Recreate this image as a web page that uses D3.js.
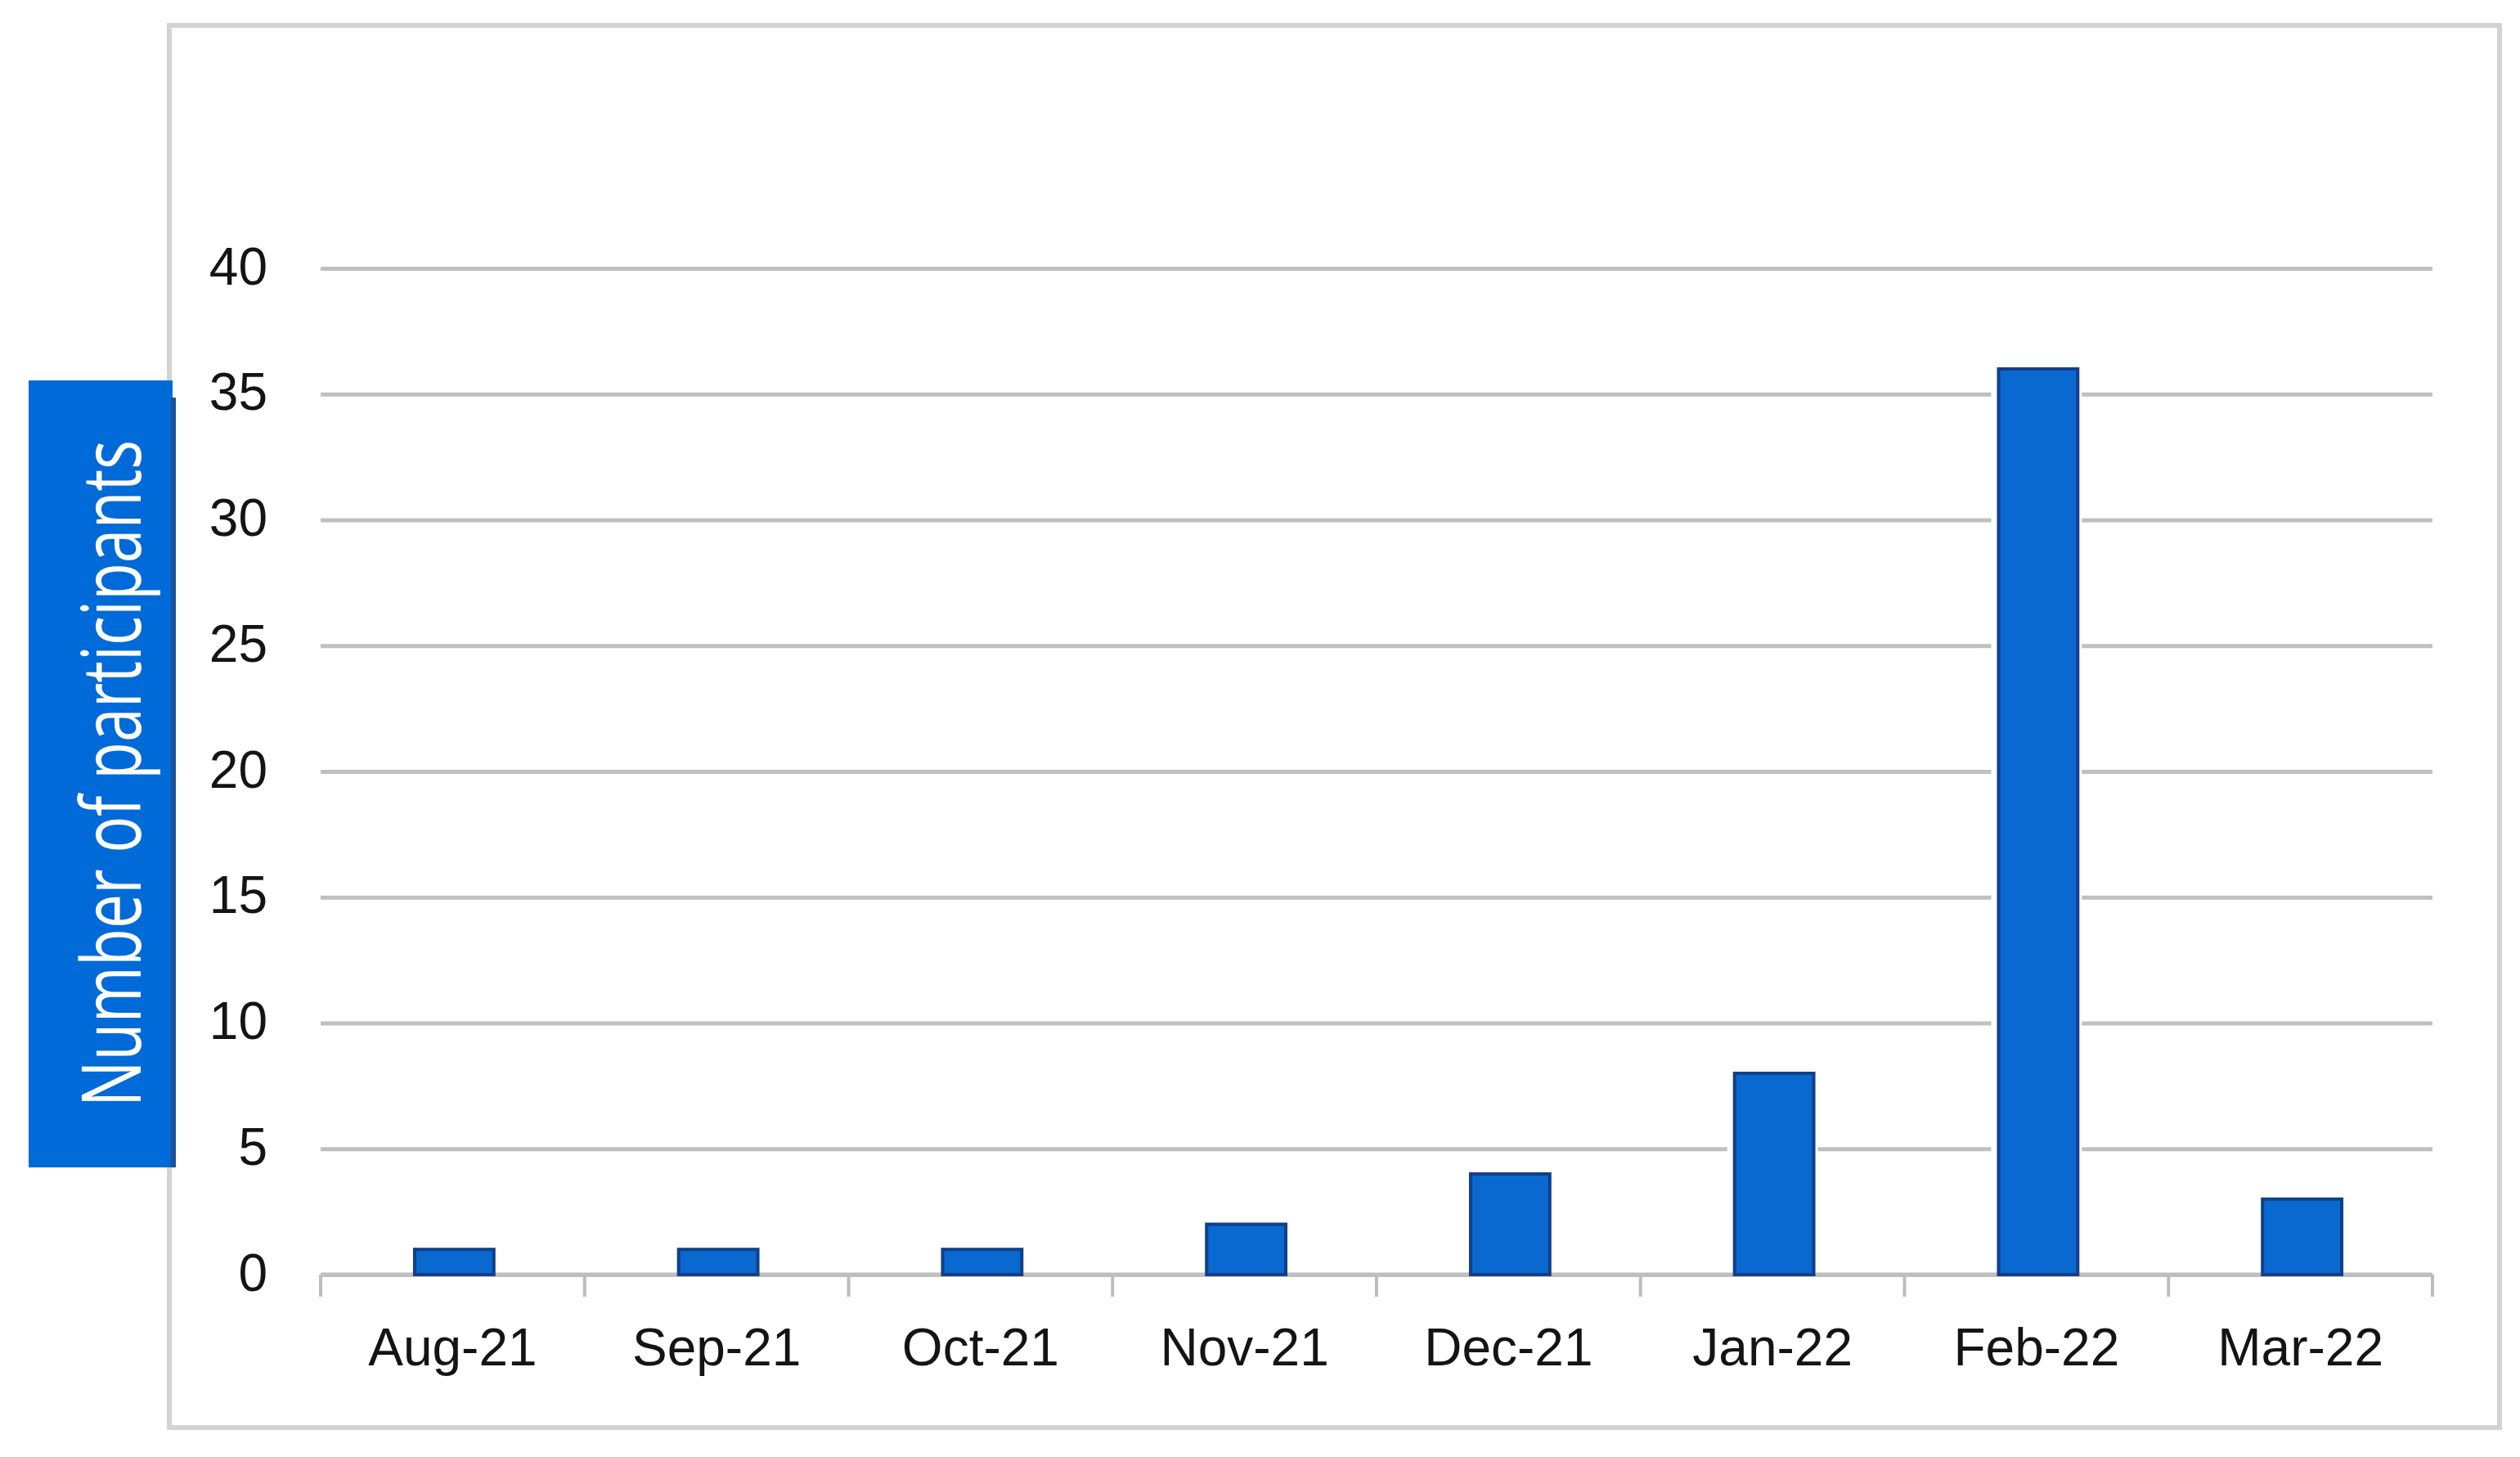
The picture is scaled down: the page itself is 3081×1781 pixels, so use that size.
<!DOCTYPE html>
<html lang="en">
<head>
<meta charset="UTF-8">
<title>Number of participants by month</title>
<script src="https://cdn.jsdelivr.net/npm/d3@7"></script>
<style>
body { margin: 0; background: #fff; }
.tick text { font-family: "Liberation Sans", Arial, sans-serif; font-size: 64px; fill: #141414; }
</style>
</head>
<body>
<script>
var months = ['Aug-21', 'Sep-21', 'Oct-21', 'Nov-21', 'Dec-21', 'Jan-22', 'Feb-22', 'Mar-22'];
var participants = [1, 1, 1, 2, 4, 8, 36, 3];
var yTicks = [0, 5, 10, 15, 20, 25, 30, 35, 40];
var yTitle = 'Number of participants';

var width = 3081, height = 1781;
var plot = {left: 392, right: 2974, top: 328, bottom: 1558};

var svg = d3.select('body').append('svg')
    .attr('width', width).attr('height', height);

// outer chart frame
svg.append('rect')
    .attr('x', 207).attr('y', 31)
    .attr('width', 3056 - 207).attr('height', 1745 - 31)
    .attr('fill', '#fff').attr('stroke', '#d3d3d3').attr('stroke-width', 6);

var x = d3.scaleBand().domain(months).range([plot.left, plot.right])
    .paddingInner(0.7).paddingOuter(0.35);
var y = d3.scaleLinear().domain([0, 40]).range([plot.bottom, plot.top]);

// gridlines + y labels
var yAxis = d3.axisLeft(y).tickValues(yTicks)
    .tickSize(-(plot.right - plot.left)).tickPadding(65);
var gy = svg.append('g').attr('transform', 'translate(' + plot.left + ',0)').call(yAxis);
gy.select('.domain').remove();
gy.selectAll('.tick line').attr('stroke', '#bfbfbf').attr('stroke-width', 5);
gy.selectAll('.tick text').attr('dy', 19);

// x axis labels
var xAxis = d3.axisBottom(x).tickSize(0);
var gx = svg.append('g').attr('transform', 'translate(0,' + plot.bottom + ')').call(xAxis);
gx.select('.domain').remove();
gx.selectAll('.tick text').attr('y', 111).attr('dy', 0);

// x axis line and boundary ticks
var half = (x.step() - x.bandwidth()) / 2;
var bounds = months.map(function (m) { return x(m) - half; });
bounds.push(x(months[months.length - 1]) + x.bandwidth() + half);
svg.append('line')
    .attr('x1', plot.left).attr('x2', plot.right)
    .attr('y1', y(0)).attr('y2', y(0))
    .attr('stroke', '#bfbfbf').attr('stroke-width', 5);
svg.selectAll('.xtick').data(bounds).enter().append('line')
    .attr('class', 'xtick')
    .attr('x1', function (d) { return d; }).attr('x2', function (d) { return d; })
    .attr('y1', y(0)).attr('y2', y(0) + 27)
    .attr('stroke', '#bdbdbd').attr('stroke-width', 4);

// bars with a thin white halo cutting the gridlines
var bars = svg.append('g');
bars.selectAll('.halo').data(participants).enter().append('rect')
    .attr('class', 'halo')
    .attr('x', function (d, i) { return x(months[i]) - 7; })
    .attr('width', x.bandwidth() + 14)
    .attr('y', function (d) { return y(d) - 2; })
    .attr('height', function (d) { return y(0) - y(d) - 1; })
    .attr('fill', '#fff');
bars.selectAll('.bar').data(participants).enter().append('rect')
    .attr('class', 'bar')
    .attr('x', function (d, i) { return x(months[i]) + 2; })
    .attr('width', x.bandwidth())
    .attr('y', function (d) { return y(d); })
    .attr('height', function (d) { return y(0) - y(d); })
    .attr('fill', '#0a68d1').attr('stroke', '#123f86').attr('stroke-width', 4);

// y title box
svg.append('rect')
    .attr('x', 35).attr('y', 465).attr('width', 176).attr('height', 962)
    .attr('fill', '#006ad9');
svg.append('rect')
    .attr('x', 209).attr('y', 486).attr('width', 6).attr('height', 941)
    .attr('fill', '#1d5196');
svg.append('text')
    .attr('transform', 'translate(172,' + ((538 + 1353) / 2) + ') rotate(-90)')
    .attr('text-anchor', 'middle')
    .attr('textLength', 815).attr('lengthAdjust', 'spacingAndGlyphs')
    .attr('font-family', '"Open Sans", "Noto Sans", sans-serif')
    .attr('font-size', 100)
    .attr('fill', '#fff')
    .text(yTitle);
</script>
</body>
</html>
